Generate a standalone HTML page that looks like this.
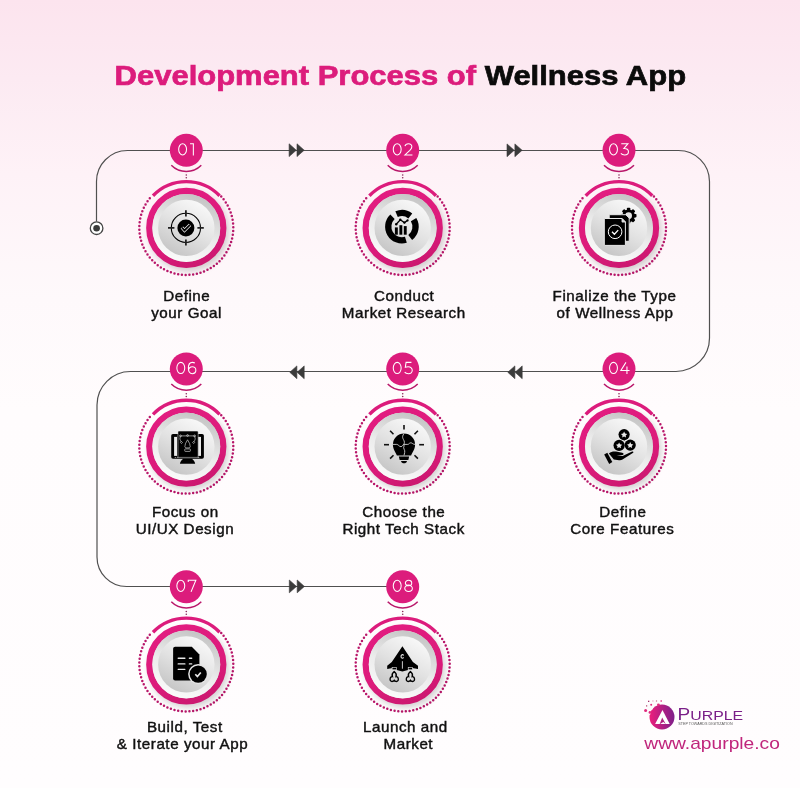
<!DOCTYPE html>
<html><head><meta charset="utf-8"><style>
html,body{margin:0;padding:0;width:800px;height:788px;overflow:hidden;background:#fdf3f8;}
svg{display:block;will-change:transform;}
.lb{font-family:"Liberation Sans",sans-serif;font-size:13.8px;fill:#111;text-anchor:middle;stroke:#111;stroke-width:0.4px;letter-spacing:0.5px;}
.tt{font-family:"Liberation Sans",sans-serif;font-size:28px;font-weight:bold;stroke-width:0.7px;}
</style></head><body>
<svg width="800" height="788" viewBox="0 0 800 788">
<defs>
<linearGradient id="bg" x1="0" y1="0" x2="0" y2="1">
<stop offset="0" stop-color="#fce4ee"/><stop offset="0.1" stop-color="#fceaf2"/><stop offset="0.22" stop-color="#fef2f7"/><stop offset="0.38" stop-color="#fef9fb"/><stop offset="0.52" stop-color="#fffcfd"/><stop offset="1" stop-color="#fffdfe"/>
</linearGradient>
<linearGradient id="bev" x1="0.7" y1="0" x2="0.3" y2="1">
<stop offset="0" stop-color="#c2c2c2"/><stop offset="0.55" stop-color="#ececec"/><stop offset="1" stop-color="#fbfbfb"/>
</linearGradient>
<linearGradient id="inn" x1="0.75" y1="0.05" x2="0.25" y2="0.95">
<stop offset="0" stop-color="#f8f8f8"/><stop offset="0.5" stop-color="#e2e2e2"/><stop offset="1" stop-color="#c6c6c6"/>
</linearGradient>
<linearGradient id="ring" x1="0.3" y1="0" x2="0.7" y2="1"><stop offset="0" stop-color="#e21c80"/><stop offset="0.6" stop-color="#dc1b7b"/><stop offset="1" stop-color="#cc1870"/></linearGradient>
<filter id="sh" x="-50%" y="-50%" width="200%" height="200%"><feGaussianBlur stdDeviation="3"/></filter>
</defs>
<rect width="800" height="788" fill="url(#bg)"/>

<text x="114.6" y="85.3" class="tt" textLength="571.5" lengthAdjust="spacingAndGlyphs"><tspan fill="#dc1c7c" stroke="#dc1c7c">Development Process of </tspan><tspan fill="#0b0b0b" stroke="#0b0b0b">Wellness App</tspan></text>
<path d="M96.5,221.5 V182 A31,31 0 0 1 127.5,150.5 H678.5 A31,31 0 0 1 709.5,181.5 V338 A33.5,33.5 0 0 1 676,371.5 H130.5 A33.5,33.5 0 0 0 97,405 V557 A29.5,29.5 0 0 0 126.5,586.5 H390" fill="none" stroke="#505050" stroke-width="1.2"/>
<circle cx="96.6" cy="228.2" r="6.3" fill="#fff" stroke="#444" stroke-width="1.3"/><circle cx="96.6" cy="228.2" r="3.3" fill="#3a3a3a"/>
<path d="M289.1,143.8 L296.3,150.2 L289.1,156.6 Z" fill="#3b3b3b" stroke="#3b3b3b" stroke-width="0.6" stroke-linejoin="round"/><path d="M297,143.8 L304.2,150.2 L297,156.6 Z" fill="#3b3b3b" stroke="#3b3b3b" stroke-width="0.6" stroke-linejoin="round"/>
<path d="M507,143.9 L514.2,150.3 L507,156.7 Z" fill="#3b3b3b" stroke="#3b3b3b" stroke-width="0.6" stroke-linejoin="round"/><path d="M514.9,143.9 L522.1,150.3 L514.9,156.7 Z" fill="#3b3b3b" stroke="#3b3b3b" stroke-width="0.6" stroke-linejoin="round"/>
<path d="M296.9,365.9 L289.8,372.3 L296.9,378.7 Z" fill="#3b3b3b" stroke="#3b3b3b" stroke-width="0.6" stroke-linejoin="round"/><path d="M304.2,365.9 L297.1,372.3 L304.2,378.7 Z" fill="#3b3b3b" stroke="#3b3b3b" stroke-width="0.6" stroke-linejoin="round"/>
<path d="M514.9,365.9 L507.8,372.3 L514.9,378.7 Z" fill="#3b3b3b" stroke="#3b3b3b" stroke-width="0.6" stroke-linejoin="round"/><path d="M522.2,365.9 L515.1,372.3 L522.2,378.7 Z" fill="#3b3b3b" stroke="#3b3b3b" stroke-width="0.6" stroke-linejoin="round"/>
<path d="M289.3,580 L296.5,586.4 L289.3,592.8 Z" fill="#3b3b3b" stroke="#3b3b3b" stroke-width="0.6" stroke-linejoin="round"/><path d="M297.2,580 L304.4,586.4 L297.2,592.8 Z" fill="#3b3b3b" stroke="#3b3b3b" stroke-width="0.6" stroke-linejoin="round"/>
<circle cx="186.3" cy="150.3" r="16.5" fill="#dc1c7c"/>
<g fill="none" stroke="#fff" stroke-width="1.05"><g transform="translate(178.15,143.2)"><ellipse cx="4.45" cy="6.1" rx="3.95" ry="5.6"/></g><g transform="translate(189.45,143.2)"><path d="M0.6,0.5 H3.9 V12.2"/></g></g>
<path d="M171.3,165.3 A21.2,21.2 0 0 0 201.3,165.3" fill="none" stroke="#b9176a" stroke-width="1.5"/>
<circle cx="186.3" cy="175" r="0.8" fill="#8a2a5a"/>
<circle cx="186.3" cy="177.8" r="0.8" fill="#8a2a5a"/>
<path d="M152.99,195.74 A46.3,46.3 0 0 1 219.61,195.74" fill="none" stroke="#dc1c7c" stroke-width="3.4" stroke-linecap="butt"/>
<path d="M221.23,196.45 A47,47 0 1 1 151.37,196.45" fill="none" stroke="#b9176a" stroke-width="2.5" stroke-linecap="round" stroke-dasharray="0 3.75"/>
<circle cx="188.8" cy="231.4" r="40" fill="#000" opacity="0.17" filter="url(#sh)"/>
<circle cx="186.3" cy="227.9" r="37" fill="none" stroke="url(#ring)" stroke-width="6.3"/>
<circle cx="186.3" cy="227.9" r="34" fill="url(#bev)"/>
<circle cx="186.3" cy="227.9" r="28.2" fill="url(#inn)"/>
<g transform="translate(186.3,227.9)"><g transform="translate(-0.4,0)">
<circle r="14.6" fill="none" stroke="#000" stroke-width="1.1"/>
<path d="M0,-17.7 V-11.5 M0,11.5 V17.7 M-17.9,0 H-11.5 M11.5,0 H17.9" stroke="#222" stroke-width="1.8"/>
<circle r="8.5" fill="#000"/>
<path d="M-4,-0.4 L-1.4,2.5 L4.1,-3.0" fill="none" stroke="#f0f0f0" stroke-width="3.3" stroke-linejoin="miter"/>
<path d="M-4,-0.4 L-1.4,2.5 L4.1,-3.0" fill="none" stroke="#000" stroke-width="1.7" stroke-linejoin="miter"/>
</g></g>
<circle cx="402.7" cy="150.3" r="16.5" fill="#dc1c7c"/>
<g fill="none" stroke="#fff" stroke-width="1.05"><g transform="translate(392.75,143.2)"><ellipse cx="4.45" cy="6.1" rx="3.95" ry="5.6"/></g><g transform="translate(404.05,143.2)"><path d="M0.9,3 C1.5,0.9 3.2,0.5 4.4,0.5 C6.6,0.5 7.8,1.9 7.8,3.5 C7.8,4.9 7.1,5.9 5.8,7.2 L0.9,11.7 H8.4"/></g></g>
<path d="M387.7,165.3 A21.2,21.2 0 0 0 417.7,165.3" fill="none" stroke="#b9176a" stroke-width="1.5"/>
<circle cx="402.7" cy="175" r="0.8" fill="#8a2a5a"/>
<circle cx="402.7" cy="177.8" r="0.8" fill="#8a2a5a"/>
<path d="M369.39,195.74 A46.3,46.3 0 0 1 436.01,195.74" fill="none" stroke="#dc1c7c" stroke-width="3.4" stroke-linecap="butt"/>
<path d="M437.63,196.45 A47,47 0 1 1 367.77,196.45" fill="none" stroke="#b9176a" stroke-width="2.5" stroke-linecap="round" stroke-dasharray="0 3.75"/>
<circle cx="405.2" cy="231.4" r="40" fill="#000" opacity="0.17" filter="url(#sh)"/>
<circle cx="402.7" cy="227.9" r="37" fill="none" stroke="url(#ring)" stroke-width="6.3"/>
<circle cx="402.7" cy="227.9" r="34" fill="url(#bev)"/>
<circle cx="402.7" cy="227.9" r="28.2" fill="url(#inn)"/>
<g transform="translate(402.7,227.9)"><g transform="translate(-0.8,-1.2)">
<g fill="none" stroke="#000" stroke-width="6.3">
<path d="M-5.33,-12.56 A13.65,13.65 0 0 1 8.40,-10.76"/><path d="M11.70,-7.03 A13.65,13.65 0 0 1 8.31,10.83"/><path d="M3.99,13.05 A13.65,13.65 0 0 1 -9.40,-9.90"/>
</g>
<rect x="-7" y="0.7" width="2.9" height="7.3" fill="#000"/>
<rect x="-2.5" y="-1.5" width="2.9" height="9.5" fill="#000"/>
<rect x="1.9" y="-0.6" width="2.9" height="8.6" fill="#000"/>
<path d="M-5.7,-2.5 L-1.6,-6.9 L2.5,-4.1 L5.7,-6.3" fill="none" stroke="#000" stroke-width="1.3"/>
<circle cx="-5.7" cy="-2.5" r="1.2"/><circle cx="-1.6" cy="-6.9" r="1.2"/><circle cx="2.5" cy="-4.1" r="1.2"/><circle cx="5.7" cy="-6.3" r="1.1"/>
</g></g>
<circle cx="619" cy="150.3" r="16.5" fill="#dc1c7c"/>
<g fill="none" stroke="#fff" stroke-width="1.05"><g transform="translate(609.05,143.2)"><ellipse cx="4.45" cy="6.1" rx="3.95" ry="5.6"/></g><g transform="translate(620.35,143.2)"><path d="M0.9,0.5 H7.6 L3.6,5.3 C6.4,5.1 8.1,6.5 8.1,8.5 C8.1,10.5 6.6,11.8 4.3,11.8 C2.7,11.8 1.3,11.2 0.5,10.2"/></g></g>
<path d="M604,165.3 A21.2,21.2 0 0 0 634,165.3" fill="none" stroke="#b9176a" stroke-width="1.5"/>
<circle cx="619" cy="175" r="0.8" fill="#8a2a5a"/>
<circle cx="619" cy="177.8" r="0.8" fill="#8a2a5a"/>
<path d="M585.69,195.74 A46.3,46.3 0 0 1 652.31,195.74" fill="none" stroke="#dc1c7c" stroke-width="3.4" stroke-linecap="butt"/>
<path d="M653.93,196.45 A47,47 0 1 1 584.07,196.45" fill="none" stroke="#b9176a" stroke-width="2.5" stroke-linecap="round" stroke-dasharray="0 3.75"/>
<circle cx="621.5" cy="231.4" r="40" fill="#000" opacity="0.17" filter="url(#sh)"/>
<circle cx="619" cy="227.9" r="37" fill="none" stroke="url(#ring)" stroke-width="6.3"/>
<circle cx="619" cy="227.9" r="34" fill="url(#bev)"/>
<circle cx="619" cy="227.9" r="28.2" fill="url(#inn)"/>
<g transform="translate(619,227.9)"><g>
<g transform="translate(9.6,-12.2)">
<circle r="6.3" fill="#000"/>
<g fill="#000">
<rect x="-1.7" y="-7.9" width="3.4" height="15.8" rx="0.8" />
<rect x="-1.7" y="-7.9" width="3.4" height="15.8" rx="0.8" transform="rotate(45)"/>
<rect x="-1.7" y="-7.9" width="3.4" height="15.8" rx="0.8" transform="rotate(90)"/>
<rect x="-1.7" y="-7.9" width="3.4" height="15.8" rx="0.8" transform="rotate(135)"/>
</g>
<circle r="3.4" fill="#e6e6e6"/>
</g>
<path d="M-9.8,-13.2 H6.8 L10.2,-9.8 V13.4 H-9.8 Z" fill="#000" stroke="#e8e8e8" stroke-width="1"/>
<path d="M-14.7,-9.4 H3.0 L6.4,-6 V17.5 H-14.7 Z" fill="#000" stroke="#e8e8e8" stroke-width="1"/>
<path d="M3,-9.4 V-5.8 H6.4 Z" fill="#d8d8d8" stroke="#e8e8e8" stroke-width="0.8"/>
<circle cx="-3.9" cy="3.9" r="6.8" fill="none" stroke="#fff" stroke-width="1"/>
<path d="M-7,3.8 L-4.6,6.3 L-0.8,2.2" fill="none" stroke="#fff" stroke-width="1.3"/>
</g></g>
<circle cx="619" cy="369" r="16.5" fill="#dc1c7c"/>
<g fill="none" stroke="#fff" stroke-width="1.05"><g transform="translate(609.05,361.9)"><ellipse cx="4.45" cy="6.1" rx="3.95" ry="5.6"/></g><g transform="translate(620.35,361.9)"><path d="M5.6,0.5 L0.5,8.6 H9.2 M6.6,4.6 V12.2"/></g></g>
<path d="M604,384 A21.2,21.2 0 0 0 634,384" fill="none" stroke="#b9176a" stroke-width="1.5"/>
<circle cx="619" cy="393.7" r="0.8" fill="#8a2a5a"/>
<circle cx="619" cy="396.5" r="0.8" fill="#8a2a5a"/>
<path d="M585.69,414.44 A46.3,46.3 0 0 1 652.31,414.44" fill="none" stroke="#dc1c7c" stroke-width="3.4" stroke-linecap="butt"/>
<path d="M653.93,415.15 A47,47 0 1 1 584.07,415.15" fill="none" stroke="#b9176a" stroke-width="2.5" stroke-linecap="round" stroke-dasharray="0 3.75"/>
<circle cx="621.5" cy="450.1" r="40" fill="#000" opacity="0.17" filter="url(#sh)"/>
<circle cx="619" cy="446.6" r="37" fill="none" stroke="url(#ring)" stroke-width="6.3"/>
<circle cx="619" cy="446.6" r="34" fill="url(#bev)"/>
<circle cx="619" cy="446.6" r="28.2" fill="url(#inn)"/>
<g transform="translate(619,446.6)"><g transform="translate(0,-1.6)">
<g fill="#000">
<circle cx="5.1" cy="-10.4" r="5.6"/>
<circle cx="0.1" cy="0.4" r="5.6"/>
<circle cx="11.2" cy="0.1" r="5.6"/>
</g>
<g fill="#e8e8e8">
<path transform="translate(5.1,-10.1) scale(3.3)" d="M0,-1 L0.294,-0.405 L0.951,-0.309 L0.476,0.155 L0.588,0.809 L0,0.5 L-0.588,0.809 L-0.476,0.155 L-0.951,-0.309 L-0.294,-0.405 Z"/>
<path transform="translate(0.1,0.7) scale(3.3)" d="M0,-1 L0.294,-0.405 L0.951,-0.309 L0.476,0.155 L0.588,0.809 L0,0.5 L-0.588,0.809 L-0.476,0.155 L-0.951,-0.309 L-0.294,-0.405 Z"/>
<path transform="translate(11.2,0.4) scale(3.3)" d="M0,-1 L0.294,-0.405 L0.951,-0.309 L0.476,0.155 L0.588,0.809 L0,0.5 L-0.588,0.809 L-0.476,0.155 L-0.951,-0.309 L-0.294,-0.405 Z"/>
</g>
<circle cx="5.4" cy="-5.5" r="0.9" fill="#000"/>
<path d="M-14.8,9.6 L-11.7,7.8 L-6.7,17.1 L-9.8,18.9 Z" fill="#000"/>
<path d="M-10.1,8.5 C-8,6.7 -5.5,6.2 -3,6.6 L3.2,7.8 C4.8,8.1 5.2,9.7 3.6,10.1 L-2.3,10.1 L3.6,10.9 L12.6,6.8 C14.2,6.1 15.2,7.2 13.8,8.1 L3.5,14.6 C2.5,15.2 1.4,15.4 0,15.2 L-5.2,14.6 Z" fill="#000"/>
</g></g>
<circle cx="402.7" cy="369" r="16.5" fill="#dc1c7c"/>
<g fill="none" stroke="#fff" stroke-width="1.05"><g transform="translate(392.75,361.9)"><ellipse cx="4.45" cy="6.1" rx="3.95" ry="5.6"/></g><g transform="translate(404.05,361.9)"><path d="M7.4,0.5 H2.0 L1.3,5.3 C2.1,5.0 3.1,4.9 4.0,4.9 C6.8,4.9 8.2,6.4 8.2,8.4 C8.2,10.4 6.7,11.8 4.3,11.8 C2.8,11.8 1.4,11.2 0.6,10.2"/></g></g>
<path d="M387.7,384 A21.2,21.2 0 0 0 417.7,384" fill="none" stroke="#b9176a" stroke-width="1.5"/>
<circle cx="402.7" cy="393.7" r="0.8" fill="#8a2a5a"/>
<circle cx="402.7" cy="396.5" r="0.8" fill="#8a2a5a"/>
<path d="M369.39,414.44 A46.3,46.3 0 0 1 436.01,414.44" fill="none" stroke="#dc1c7c" stroke-width="3.4" stroke-linecap="butt"/>
<path d="M437.63,415.15 A47,47 0 1 1 367.77,415.15" fill="none" stroke="#b9176a" stroke-width="2.5" stroke-linecap="round" stroke-dasharray="0 3.75"/>
<circle cx="405.2" cy="450.1" r="40" fill="#000" opacity="0.17" filter="url(#sh)"/>
<circle cx="402.7" cy="446.6" r="37" fill="none" stroke="url(#ring)" stroke-width="6.3"/>
<circle cx="402.7" cy="446.6" r="34" fill="url(#bev)"/>
<circle cx="402.7" cy="446.6" r="28.2" fill="url(#inn)"/>
<g transform="translate(402.7,446.6)"><g transform="translate(1.3,-1.9)">
<g stroke="#111" stroke-width="1.6">
<path d="M0,-19.7 V-15.2"/>
<path d="M-20,0 H-15"/><path d="M15.2,0 H20"/>
<path d="M-13.9,-13.9 L-10.5,-10.5"/><path d="M13.9,-13.9 L10.5,-10.5"/>
<path d="M-13.9,13.9 L-10.5,10.5"/><path d="M13.9,13.9 L10.5,10.5"/>
</g>
<path d="M-11.1,0 A11.1,11.1 0 1 1 11.1,0 C11.1,4.5 8.5,7 7.1,10.8 H-7.1 C-8.5,7 -11.1,4.5 -11.1,0 Z" fill="#000"/>
<path d="M-5.2,11.8 H5.2 L4.3,15.2 H-4.3 Z" fill="#000"/>
<path d="M-3,16.2 H3 C2.5,18 1.5,18.6 0,18.6 C-1.5,18.6 -2.5,18 -3,16.2 Z" fill="#000"/>
<g fill="none" stroke="#d0d0d0" stroke-width="0.9">
<path d="M0,-11.2 C-1.6,-9 -1.6,-7.5 -1.1,-6.3 C-0.6,-4.6 1.2,-3.5 0,-0.5 V1.5 C-1.4,3.5 1.5,5.5 0.7,7.7 L0,10.8"/>
<path d="M-11.1,-0.3 H-7.3 C-5.5,-0.3 -5,2 -3,2 C-1.5,2 -1.5,-0.3 0,-0.3 H3.8 C5,-0.3 5.2,-1.9 6.8,-1.9 C8.5,-1.9 8.6,-0.3 11.1,-0.3"/>
</g>
</g></g>
<circle cx="186.3" cy="369" r="16.5" fill="#dc1c7c"/>
<g fill="none" stroke="#fff" stroke-width="1.05"><g transform="translate(176.35,361.9)"><ellipse cx="4.45" cy="6.1" rx="3.95" ry="5.6"/></g><g transform="translate(187.65,361.9)"><path d="M7.2,1.1 C6.5,0.7 5.6,0.5 4.7,0.5 C2.2,0.5 0.7,2.5 0.7,6.2 C0.7,9.9 2.2,11.8 4.6,11.8 C6.7,11.8 8.2,10.4 8.2,8.3 C8.2,6.2 6.8,4.9 4.7,4.9 C2.5,4.9 0.9,6.3 0.9,8.2"/></g></g>
<path d="M171.3,384 A21.2,21.2 0 0 0 201.3,384" fill="none" stroke="#b9176a" stroke-width="1.5"/>
<circle cx="186.3" cy="393.7" r="0.8" fill="#8a2a5a"/>
<circle cx="186.3" cy="396.5" r="0.8" fill="#8a2a5a"/>
<path d="M152.99,414.44 A46.3,46.3 0 0 1 219.61,414.44" fill="none" stroke="#dc1c7c" stroke-width="3.4" stroke-linecap="butt"/>
<path d="M221.23,415.15 A47,47 0 1 1 151.37,415.15" fill="none" stroke="#b9176a" stroke-width="2.5" stroke-linecap="round" stroke-dasharray="0 3.75"/>
<circle cx="188.8" cy="450.1" r="40" fill="#000" opacity="0.17" filter="url(#sh)"/>
<circle cx="186.3" cy="446.6" r="37" fill="none" stroke="url(#ring)" stroke-width="6.3"/>
<circle cx="186.3" cy="446.6" r="34" fill="url(#bev)"/>
<circle cx="186.3" cy="446.6" r="28.2" fill="url(#inn)"/>
<g transform="translate(186.3,446.6)"><g transform="translate(1.25,0)">
<path d="M-14.6,-12.6 H14.6 Q16.35,-12.6 16.35,-10.85 V10.35 Q16.35,12.1 14.6,12.1 H-14.6 Q-16.35,12.1 -16.35,10.35 V-10.85 Q-16.35,-12.6 -14.6,-12.6 Z" fill="#000"/>
<rect x="-13.45" y="-9.7" width="2.9" height="19" fill="#e9e9e9"/>
<rect x="10.55" y="-9.7" width="2.9" height="19" fill="#e9e9e9"/>
<path d="M-9.6,-14.5 Q-9.6,-15.5 -8.6,-15.5 H9.6 Q10.6,-15.5 10.6,-14.5 V10.8 H-9.6 Z" fill="#000" stroke="#e9e9e9" stroke-width="0.5"/>
<path d="M-4.5,12.1 C-5.5,13.5 -7.5,14.6 -7.6,17.2 H7.6 C7.5,14.6 5.5,13.5 4.5,12.1 Z" fill="#000"/>
<path d="M-12.8,10.9 H-11.3 M-10.5,10.9 H-9.4 M10.3,10.9 H11.7" stroke="#bdbdbd" stroke-width="0.7"/>
<g fill="none" stroke="#dcdcdc" stroke-width="0.65">
<path d="M-7,-10.7 H7"/>
<path d="M-6.5,-10.5 C-8.5,-8.5 -7.5,-6.5 -6.2,-4.6"/>
<path d="M6.5,-10.5 C8.5,-8.5 7.5,-6.5 6.2,-4.6"/>
<circle cx="-7.1" cy="-10.7" r="0.9"/><circle cx="7.1" cy="-10.7" r="0.9"/><circle cx="0" cy="-11.1" r="0.9"/>
<path d="M-7.1,-4.1 L-6.1,-5.1 L-5.1,-4.1 L-6.1,-3.1 Z"/><path d="M5.1,-4.1 L6.1,-5.1 L7.1,-4.1 L6.1,-3.1 Z"/>
<path d="M0,-6.8 L-2.2,-2.8 L-2.4,-1.2 C-3,-0.6 -2.8,1 -1.6,1.3 H1.6 C2.8,1 3,-0.6 2.4,-1.2 L2.2,-2.8 Z"/>
<rect x="-2.8" y="2.3" width="5.6" height="2.5" rx="0.6"/>
</g>
</g></g>
<circle cx="186.3" cy="586.8" r="16.5" fill="#dc1c7c"/>
<g fill="none" stroke="#fff" stroke-width="1.05"><g transform="translate(176.35,579.7)"><ellipse cx="4.45" cy="6.1" rx="3.95" ry="5.6"/></g><g transform="translate(187.65,579.7)"><path d="M0.6,2.4 V0.5 H8.2 L3.4,12.2"/></g></g>
<path d="M171.3,601.8 A21.2,21.2 0 0 0 201.3,601.8" fill="none" stroke="#b9176a" stroke-width="1.5"/>
<circle cx="186.3" cy="611.5" r="0.8" fill="#8a2a5a"/>
<circle cx="186.3" cy="614.3" r="0.8" fill="#8a2a5a"/>
<path d="M152.99,632.24 A46.3,46.3 0 0 1 219.61,632.24" fill="none" stroke="#dc1c7c" stroke-width="3.4" stroke-linecap="butt"/>
<path d="M221.23,632.95 A47,47 0 1 1 151.37,632.95" fill="none" stroke="#b9176a" stroke-width="2.5" stroke-linecap="round" stroke-dasharray="0 3.75"/>
<circle cx="188.8" cy="667.9" r="40" fill="#000" opacity="0.17" filter="url(#sh)"/>
<circle cx="186.3" cy="664.4" r="37" fill="none" stroke="url(#ring)" stroke-width="6.3"/>
<circle cx="186.3" cy="664.4" r="34" fill="url(#bev)"/>
<circle cx="186.3" cy="664.4" r="28.2" fill="url(#inn)"/>
<g transform="translate(186.3,664.4)"><g>
<path d="M-11.2,-17.6 H5.5 L13.1,-10 V14 Q13.1,16 11.1,16 H-11.2 Q-13.2,16 -13.2,14 V-15.6 Q-13.2,-17.6 -11.2,-17.6 Z" fill="#000"/>
<g stroke="#e8e8e8" stroke-width="1.35" stroke-linecap="round">
<path d="M-8.1,-6.2 H-1.4"/><path d="M3.1,-6.2 H5.4"/>
<path d="M-8.1,-0.5 H-1.4"/><path d="M3.1,-0.5 H5.4"/>
<path d="M-8.1,4.9 H-1.4"/>
</g>
<circle cx="11.9" cy="9.7" r="10.1" fill="#e4e4e4"/>
<circle cx="11.9" cy="9.7" r="8.6" fill="#000"/>
<path d="M9.0,9.8 L11.1,12.1 L14.5,8.1" fill="none" stroke="#e8e8e8" stroke-width="1.7"/>
</g></g>
<circle cx="402.7" cy="586.8" r="16.5" fill="#dc1c7c"/>
<g fill="none" stroke="#fff" stroke-width="1.05"><g transform="translate(392.75,579.7)"><ellipse cx="4.45" cy="6.1" rx="3.95" ry="5.6"/></g><g transform="translate(404.05,579.7)"><ellipse cx="4.5" cy="3.3" rx="3.2" ry="2.8"/><ellipse cx="4.5" cy="8.6" rx="3.8" ry="3.2"/></g></g>
<path d="M387.7,601.8 A21.2,21.2 0 0 0 417.7,601.8" fill="none" stroke="#b9176a" stroke-width="1.5"/>
<circle cx="402.7" cy="611.5" r="0.8" fill="#8a2a5a"/>
<circle cx="402.7" cy="614.3" r="0.8" fill="#8a2a5a"/>
<path d="M369.39,632.24 A46.3,46.3 0 0 1 436.01,632.24" fill="none" stroke="#dc1c7c" stroke-width="3.4" stroke-linecap="butt"/>
<path d="M437.63,632.95 A47,47 0 1 1 367.77,632.95" fill="none" stroke="#b9176a" stroke-width="2.5" stroke-linecap="round" stroke-dasharray="0 3.75"/>
<circle cx="405.2" cy="667.9" r="40" fill="#000" opacity="0.17" filter="url(#sh)"/>
<circle cx="402.7" cy="664.4" r="37" fill="none" stroke="url(#ring)" stroke-width="6.3"/>
<circle cx="402.7" cy="664.4" r="34" fill="url(#bev)"/>
<circle cx="402.7" cy="664.4" r="28.2" fill="url(#inn)"/>
<g transform="translate(402.7,664.4)"><g>
<path d="M-0.3,-18.2 L10.2,-2.3 L15.3,1.3 V4.6 L6.5,3.0 L5.4,5.5 L-0.3,7.2 L-6.1,5.5 L-7.2,3.0 L-15.5,4.6 V1.3 L-10.9,-2.3 Z" fill="#000"/>
<path d="M0.9,-8.8 C0.5,-9.6 -0.2,-9.9 -0.8,-9.6 C-1.6,-9.2 -1.8,-8 -1.6,-7.2 C-1.3,-6.3 -0.4,-6 0.3,-6.3 C0.6,-6.5 0.8,-6.8 0.9,-7.1" fill="none" stroke="#e6e6e6" stroke-width="1.1"/>
<path d="M-0.3,-3.2 V4.3" stroke="#e0e0e0" stroke-width="0.9"/>
<g fill="#000" stroke="#e6e6e6" stroke-width="0.6">
<rect x="-10.6" y="2.9" width="4.2" height="2.5"/>
<rect x="5.5" y="2.9" width="4.2" height="2.5"/>
</g>
<g fill="none" stroke="#000" stroke-width="1.35">
<path transform="translate(-8.5,12.2)" d="M0,-5 C-1.8,-3.5 -2.5,-1.5 -1.8,0 C-4.6,-0.3 -5,4.9 -2.2,4.9 C-1,4.9 -0.3,4.3 0,3.8 C0.3,4.3 1,4.9 2.2,4.9 C5,4.9 4.6,-0.3 1.8,0 C2.5,-1.5 1.8,-3.5 0,-5 Z"/>
<path transform="translate(7.7,12.2)" d="M0,-5 C-1.8,-3.5 -2.5,-1.5 -1.8,0 C-4.6,-0.3 -5,4.9 -2.2,4.9 C-1,4.9 -0.3,4.3 0,3.8 C0.3,4.3 1,4.9 2.2,4.9 C5,4.9 4.6,-0.3 1.8,0 C2.5,-1.5 1.8,-3.5 0,-5 Z"/>
</g>
</g></g>
<text transform="translate(186.75,301) scale(1.1,1)" class="lb">Define</text>
<text transform="translate(186.6,317.8) scale(1.1,1)" class="lb">your Goal</text>
<text transform="translate(404.1,301) scale(1.1,1)" class="lb">Conduct</text>
<text transform="translate(403.75,317.8) scale(1.1,1)" class="lb">Market Research</text>
<text transform="translate(614.5,301) scale(1.1,1)" class="lb">Finalize the Type</text>
<text transform="translate(615,317.8) scale(1.1,1)" class="lb">of Wellness App</text>
<text transform="translate(185.3,516.9) scale(1.1,1)" class="lb">Focus on</text>
<text transform="translate(184.9,533.7) scale(1.1,1)" class="lb">UI/UX Design</text>
<text transform="translate(403.8,516.9) scale(1.1,1)" class="lb">Choose the</text>
<text transform="translate(403.6,533.7) scale(1.1,1)" class="lb">Right Tech Stack</text>
<text transform="translate(622.8,516.9) scale(1.1,1)" class="lb">Define</text>
<text transform="translate(622.3,533.7) scale(1.1,1)" class="lb">Core Features</text>
<text transform="translate(184.8,731.9) scale(1.1,1)" class="lb">Build, Test</text>
<text transform="translate(182.5,748.7) scale(1.1,1)" class="lb">&amp; Iterate your App</text>
<text transform="translate(405.4,731.9) scale(1.1,1)" class="lb">Launch and</text>
<text transform="translate(408.3,748.7) scale(1.1,1)" class="lb">Market</text>
<g>
<defs><linearGradient id="lg" x1="0" y1="0" x2="1" y2="0"><stop offset="0" stop-color="#ec1f7c"/><stop offset="1" stop-color="#7d1f8a"/></linearGradient></defs>
<circle cx="662" cy="717" r="12.5" fill="url(#lg)"/>
<g fill="#fdf9fb">
<circle cx="650" cy="707" r="3.2"/><circle cx="655" cy="703.5" r="2.2"/><circle cx="648.5" cy="713" r="2.2"/>
</g>
<g fill="#e02a7e">
<rect x="648" y="700.7" width="1.3" height="1.3" fill="#a0306a"/><rect x="652.3" y="700.4" width="1.2" height="1.2" fill="#e9a0c0"/><rect x="655.9" y="700.4" width="1.2" height="1.2" fill="#c06a8a"/><rect x="660.5" y="700.3" width="1.4" height="1.4"/>
<rect x="646" y="705.3" width="1.2" height="1.2" fill="#b0406a"/><circle cx="651.2" cy="704.8" r="1"/><circle cx="658.4" cy="704.8" r="1.4"/>
<circle cx="645.6" cy="710.6" r="1.5"/><circle cx="649.9" cy="712.4" r="1.3"/>
</g>
<path d="M655.1,724.1 L662.5,709.9 L669.7,724.1 Z" fill="#fff"/>
<path d="M659.6,724.2 L662.2,717.4 L665.8,724.2 L663.4,722 Z" fill="#b0207f"/>
<text x="677.6" y="720.1" font-family="Liberation Sans, sans-serif" font-size="15.8" fill="#7a1f88" textLength="65.5" lengthAdjust="spacingAndGlyphs">P<tspan font-size="13.2">URPLE</tspan></text>
<text x="678.3" y="725.1" font-family="Liberation Sans, sans-serif" font-size="2.8" fill="#555" textLength="54.3" lengthAdjust="spacingAndGlyphs">STEP TOWARDS DIGITIZATION</text>
<text x="644.3" y="749.1" font-family="Liberation Sans, sans-serif" font-size="16.6" fill="#c0257c" textLength="135.6" lengthAdjust="spacingAndGlyphs">www.apurple.co</text>
</g>
</svg></body></html>
